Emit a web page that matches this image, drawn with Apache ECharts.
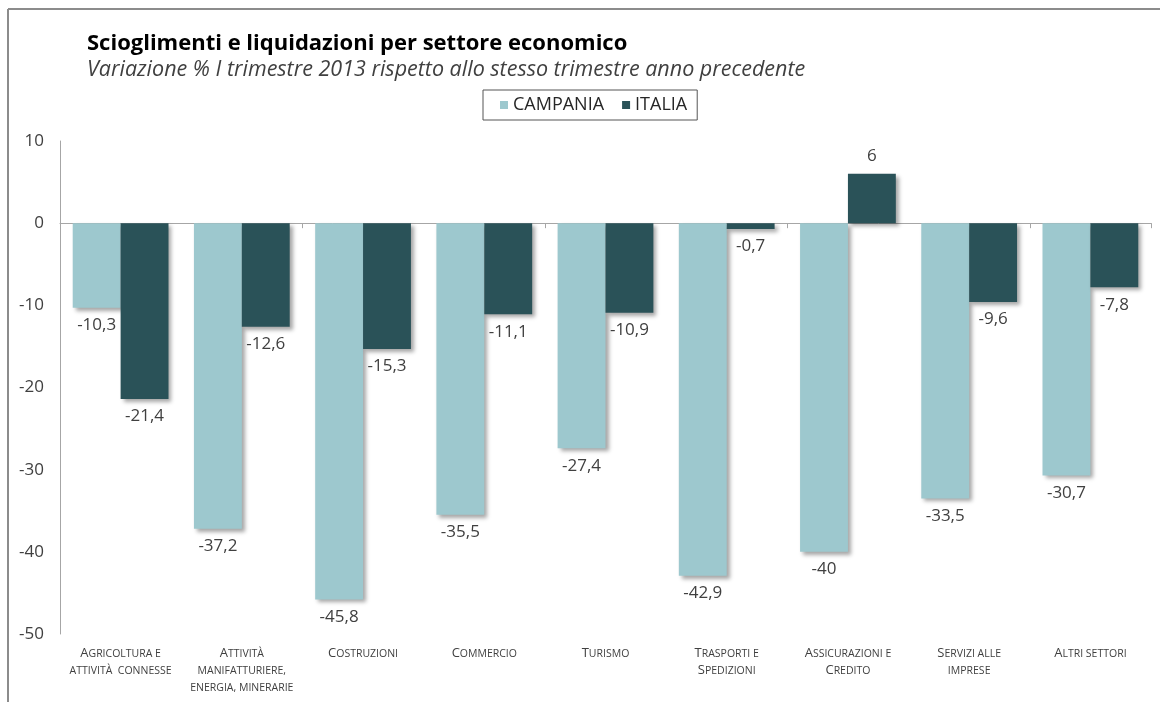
<!DOCTYPE html>
<html>
<head>
<meta charset="utf-8">
<script src="https://cdn.jsdelivr.net/npm/echarts@6/dist/echarts.min.js"></script>
<style>
html,body{margin:0;padding:0;background:#fff;}
#c{width:1160px;height:702px;}
</style>
</head>
<body>
<div id="c"></div>
<script>
const categories = [
  "Agricoltura e\nattività  connesse",
  "Attività\nmanifatturiere,\nenergia, minerarie",
  "Costruzioni",
  "Commercio",
  "Turismo",
  "Trasporti e\nSpedizioni",
  "Assicurazioni e\nCredito",
  "Servizi alle\nimprese",
  "Altri settori"
];
const seriesNames = ["CAMPANIA", "ITALIA"];
const campania = [-10.3, -37.2, -45.8, -35.5, -27.4, -42.9, -40, -33.5, -30.7];
const italia = [-21.4, -12.6, -15.3, -11.1, -10.9, -0.7, 6, -9.6, -7.8];
const yTicks = { min: -50, max: 10, interval: 10 };

const FONT = "'Open Sans', 'Noto Sans', sans-serif";
const colors = ["#9DC8CE", "#2A5258"];

function smallCaps(str) {
  const lines = str.split("\n");
  return lines.map(line => {
    let out = "";
    let cur = null, buf = "";
    for (const ch of line) {
      const isUp = ch !== ch.toLowerCase() && ch === ch.toUpperCase();
      const t = isUp ? "b" : "s";
      if (t !== cur && buf) { out += "{" + cur + "|" + buf + "}"; buf = ""; }
      cur = t;
      buf += isUp ? ch : ch.toUpperCase();
    }
    if (buf) out += "{" + cur + "|" + buf + "}";
    return out;
  }).join("\n");
}

const chart = echarts.init(document.getElementById("c"), null, { renderer: "canvas" });

function labelFmt(p) { return String(p.value).replace(".", ","); }

const option = {
  backgroundColor: "#fff",
  animation: false,
  textStyle: { fontFamily: FONT },
  title: {
    text: "Scioglimenti e liquidazioni per settore economico",
    subtext: "Variazione % I trimestre 2013 rispetto allo stesso trimestre anno precedente",
    left: 82, top: 28, itemGap: 4,
    textStyle: { fontFamily: FONT, fontSize: 22, fontWeight: "bold", color: "#000" },
    subtextStyle: { fontFamily: FONT, fontSize: 21.5, fontStyle: "italic", color: "#404040" }
  },
  legend: {
    data: seriesNames,
    left: 483, top: 90,
    borderColor: "#555", borderWidth: 1,
    padding: [6, 10, 6, 17],
    itemWidth: 8, itemHeight: 8, itemGap: 18,
    icon: "rect",
    textStyle: { fontFamily: FONT, fontSize: 18, color: "#262626", padding: [0, 0, 0, 0] }
  },
  grid: { left: 60, right: 9, top: 141, bottom: 68, containLabel: false },
  xAxis: [
    {
      type: "category", data: categories,
      axisLine: { onZero: true, lineStyle: { color: "#A6A6A6", width: 1 } },
      axisTick: { show: true, length: 5, lineStyle: { color: "#A6A6A6" } },
      axisLabel: { show: false }
    },
    {
      type: "category", data: categories, position: "bottom",
      axisLine: { show: false, onZero: false }, axisTick: { show: false },
      axisLabel: {
        interval: 0, margin: 9, color: "#404040", lineHeight: 17,
        formatter: v => smallCaps(v),
        rich: {
          b: { fontFamily: FONT, fontSize: 13, color: "#404040", lineHeight: 17, verticalAlign: "bottom" },
          s: { fontFamily: FONT, fontSize: 10.5, color: "#404040", lineHeight: 17, verticalAlign: "bottom" }
        }
      }
    }
  ],
  yAxis: {
    type: "value", min: yTicks.min, max: yTicks.max, interval: yTicks.interval,
    axisLine: { show: true, lineStyle: { color: "#A6A6A6" } },
    axisTick: { show: false },
    splitLine: { show: false },
    axisLabel: { fontFamily: FONT, fontSize: 17, color: "#404040", margin: 16 }
  },
  series: [
    {
      name: seriesNames[0], type: "bar", data: campania, xAxisIndex: 0,
      barGap: "0%", barCategoryGap: "21%",
      itemStyle: { color: colors[0], shadowBlur: 4, shadowOffsetX: 3, shadowOffsetY: 3, shadowColor: "rgba(0,0,0,0.35)" },
      label: { show: true, position: "outside", distance: 9, formatter: labelFmt, fontFamily: FONT, fontSize: 17, color: "#404040" }
    },
    {
      name: seriesNames[1], type: "bar", data: italia, xAxisIndex: 0,
      barGap: "0%", barCategoryGap: "21%",
      itemStyle: { color: colors[1], shadowBlur: 4, shadowOffsetX: 3, shadowOffsetY: 3, shadowColor: "rgba(0,0,0,0.35)" },
      label: { show: true, position: "outside", distance: 9, formatter: labelFmt, fontFamily: FONT, fontSize: 17, color: "#404040" }
    }
  ],
  graphic: [
    { type: "line", shape: { x1: 8, y1: 9, x2: 1160, y2: 9 }, style: { stroke: "#8C8C8C", lineWidth: 2 } },
    { type: "line", shape: { x1: 8, y1: 9, x2: 8, y2: 702 }, style: { stroke: "#8C8C8C", lineWidth: 2 } }
  ]
};
chart.setOption(option);
</script>
</body>
</html>
